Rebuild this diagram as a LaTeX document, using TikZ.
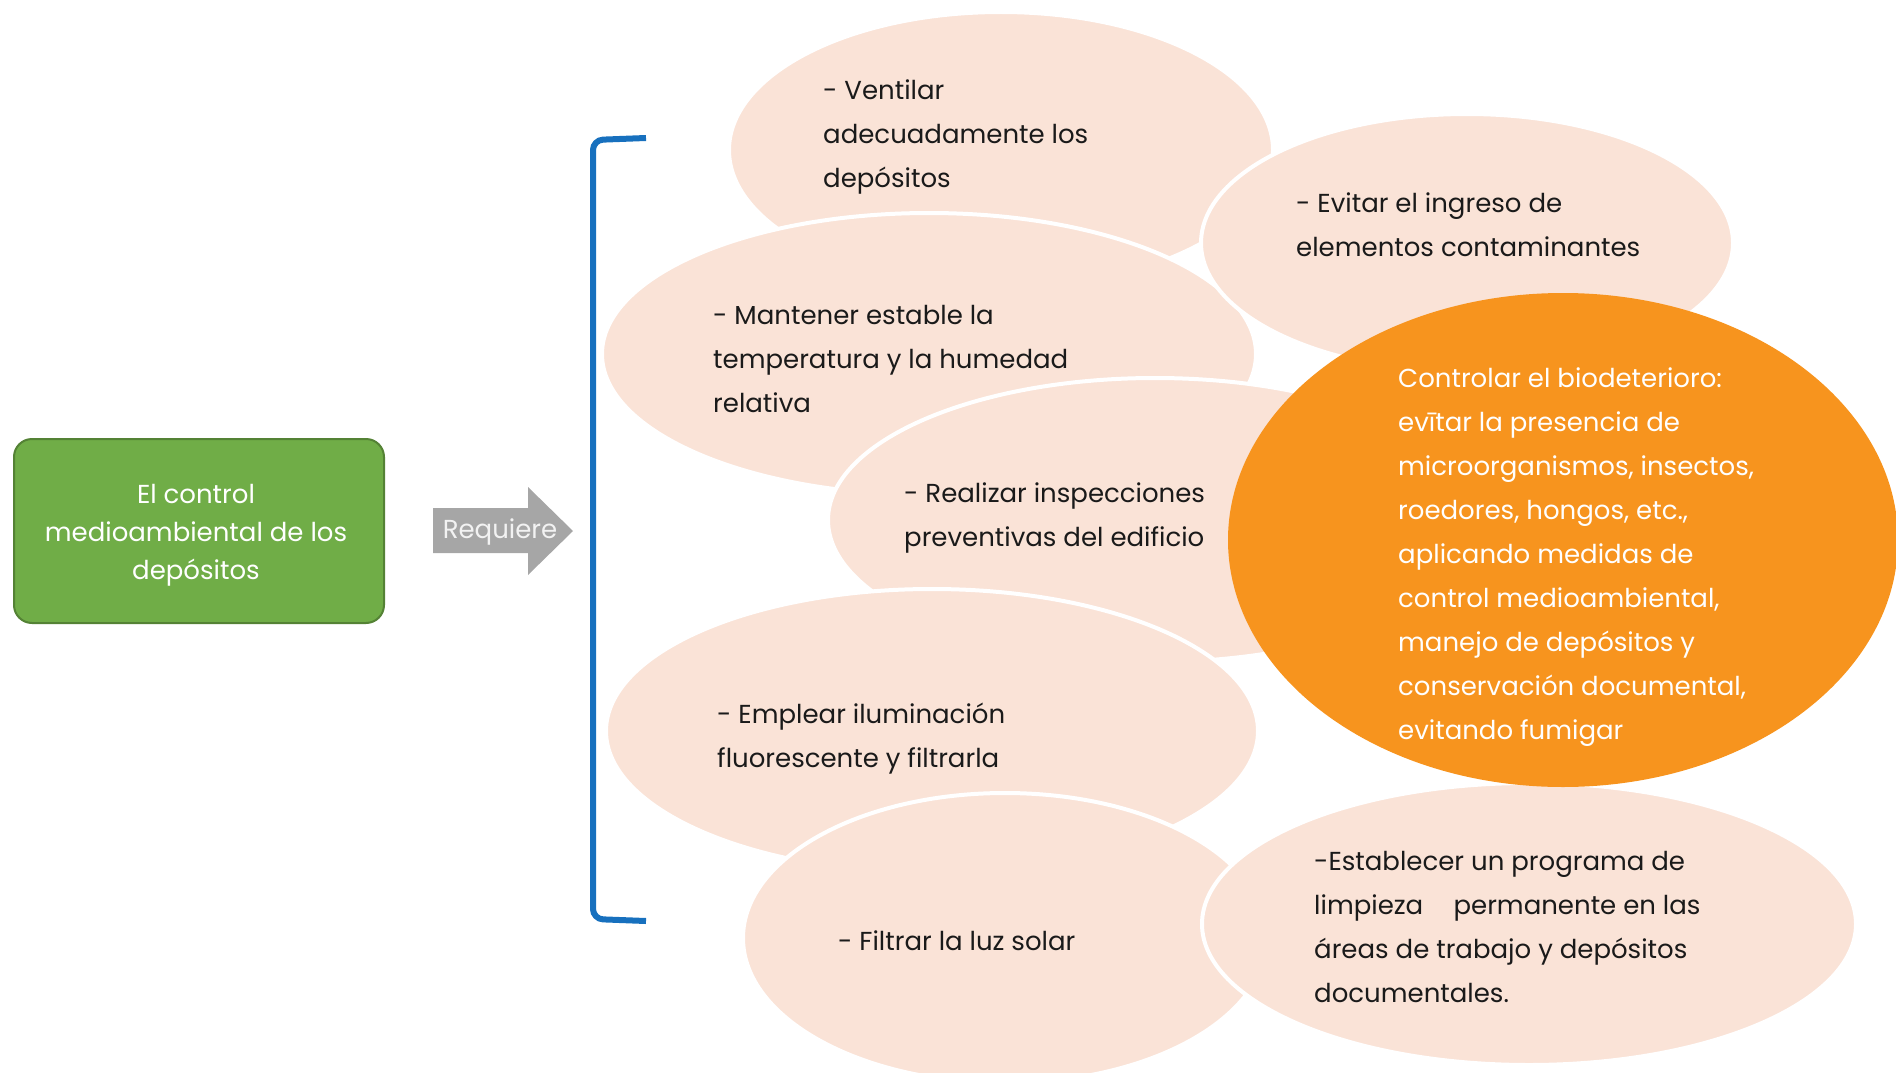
\documentclass[tikz,border=0pt]{standalone}
\usepackage{fontspec}
\setmainfont{Poppins}
\definecolor{peach}{HTML}{FAE3D7}
\definecolor{tangerine}{HTML}{F7941E}
\definecolor{leaf}{HTML}{70AD47}
\definecolor{leafdark}{HTML}{548235}
\definecolor{arrowgray}{HTML}{A6A6A6}
\definecolor{bracketblue}{HTML}{1770BE}
\definecolor{ink}{HTML}{1A1A1A}
\begin{document}
\begin{tikzpicture}[x=1pt,y=-1pt,
  bubble/.style={fill=peach, draw=white, line width=4pt},
  hotbubble/.style={fill=tangerine},
  bubbletext/.style={anchor=west, align=left, inner sep=0pt, text=ink,
    font=\fontsize{26}{44}\selectfont},
  hottext/.style={bubbletext, text=white},
]
\useasboundingbox (0,0) rectangle (1896,1073);

% source box and "Requiere" arrow
\node (src) [draw=leafdark, line width=2pt, fill=leaf, rounded corners=18pt,
  minimum width=370pt, minimum height=184pt, text=white, align=center,
  font=\fontsize{26}{38}\selectfont] at (199,531) {};
\node (srctext) [text=white, align=center, inner sep=0pt,
  font=\fontsize{26}{38}\selectfont] at (196,535)
  {El control\\medioambiental de los\\depósitos};
\fill[arrowgray] (433,508) -- (528,508) -- (528,487) -- (573,531)
  -- (528,575) -- (528,553) -- (433,553) -- cycle;
\node (req) [text=white!95!black, inner sep=0pt, font=\fontsize{26}{30}\selectfont]
  at (500,532) {Requiere};

% bracket grouping the actions
\draw[bracketblue, line width=6pt, rounded corners=10pt]
  (646,138) -- (593,140) -- (593,919) -- (646,921);

% action bubbles, back to front
\path[bubble] (1001,150) ellipse [x radius=272pt, y radius=138pt];
\path[bubble] (929,354) ellipse [x radius=327pt, y radius=141pt];
\path[bubble] (1467,243) ellipse [x radius=266pt, y radius=129pt];
\path[bubble] (1155,520) ellipse [x radius=327pt, y radius=142pt];
\path[bubble] (932,731) ellipse [x radius=326pt, y radius=142pt];
\path[bubble] (1005,938) ellipse [x radius=262pt, y radius=145pt];
\path[bubble] (1529,924) ellipse [x radius=327pt, y radius=141pt];
\path[hotbubble] (1563,540) ellipse [x radius=335pt, y radius=247pt];

% bubble texts
\node (ventilar) [bubbletext] at (823,137)
  {- Ventilar\\adecuadamente los\\depósitos};
\node (evitar) [bubbletext] at (1296,225)
  {- Evitar el ingreso de\\elementos contaminantes};
\node (mantener) [bubbletext] at (713,359)
  {- Mantener estable la\\temperatura y la humedad\\relativa};
\node (realizar) [bubbletext] at (904,518)
  {- Realizar inspecciones\\preventivas del edificio};
\node (bio) [hottext] at (1398,557)
  {Controlar el biodeterioro:\\evītar la presencia de\\microorganismos, insectos,\\roedores, hongos, etc.,\\aplicando medidas de\\control medioambiental,\\manejo de depósitos y\\conservación documental,\\evitando fumigar};
\node (emplear) [bubbletext] at (717,739)
  {- Emplear iluminación\\fluorescente y filtrarla};
\node (filtrar) [bubbletext] at (838,941) {- Filtrar la luz solar};
\node (limpieza) [bubbletext] at (1314,927)
  {-Establecer un programa de\\limpieza\hspace{0.9em} permanente en las\\áreas de trabajo y depósitos\\documentales.};
\end{tikzpicture}
\end{document}
